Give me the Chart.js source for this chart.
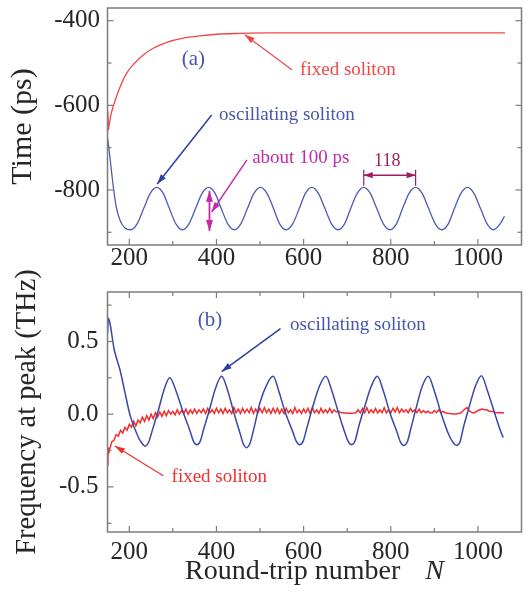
<!DOCTYPE html>
<html><head><meta charset="utf-8">
<script src="https://cdn.jsdelivr.net/npm/chart.js@4/dist/chart.umd.min.js"></script>
<style>
html,body{margin:0;padding:0;background:#fff;}
#wrap{position:relative;width:528px;height:595px;overflow:hidden;}
canvas{position:absolute;left:0;}
</style></head><body>
<div id="wrap">
<canvas id="topChart" width="528" height="270" style="top:0"></canvas>
<canvas id="botChart" width="528" height="325" style="top:270px"></canvas>
</div>
<script>
// ---------- data ----------
// (a) time position of the two solitons
const topRedN = [150,151,152,154,158,163,171,179,194,209,232,255,286,324,362,400,454,520,700,900,1062];
const topRedT = [-668,-615,-658,-645,-622,-603,-578,-556,-524,-504,-481,-465,-451,-441,-436,-432,-430,-429,-429,-429,-429];

const topBlueN = [150,153,158,163,170,179,190,203,
  218,233,248,263,278,292,307,322,337,352,367,382,397,411,426,441,456,471,486,501,516,531,545,560,
  575,590,604,619,634,649,664,679,694,708,723,738,753,768,783,798,813,827,842,857,872,887,902,917,
  932,946,961,976,991,1006,1021,1036,1051,1061];
const topBlueT = [-676,-700,-745,-790,-840,-872,-890,-894,
  -880,-844,-808,-794,-808,-844,-880,-894,-880,-844,-808,-794,-808,-844,-880,-894,-880,-844,-808,-794,-808,-844,-880,-894,
  -880,-844,-808,-794,-808,-844,-880,-894,-880,-844,-808,-794,-808,-844,-880,-894,-880,-844,-808,-794,-808,-844,-880,-894,
  -880,-844,-808,-794,-808,-844,-880,-894,-880,-862];

// (b) frequency at peak
const botBlueN = [150,152,156,165,179,190,202,221,229,236,244,252,267,280,293,
  306,324,340,347,355,363,370,383,397,412,
  425,440,455,461,469,477,485,500,515,530,
  543,557,575,583,591,599,607,620,636,651,
  665,680,695,702,710,718,726,740,755,769,
  783,798,815,822,830,838,846,858,872,886,
  900,915,933,943,951,959,966,979,994,1008,
  1022,1037,1050,1058];
const botBlueF = [0.55,0.66,0.62,0.45,0.30,0.15,-0.01,-0.16,-0.20,-0.22,-0.195,-0.12,0.03,0.17,0.25,
  0.17,0.01,-0.12,-0.185,-0.21,-0.185,-0.11,0.02,0.17,0.26,
  0.17,0.01,-0.14,-0.20,-0.23,-0.20,-0.11,0.08,0.20,0.26,
  0.16,0.02,-0.12,-0.185,-0.21,-0.185,-0.10,0.04,0.19,0.26,
  0.16,0.01,-0.13,-0.185,-0.21,-0.185,-0.09,0.05,0.19,0.26,
  0.16,0.01,-0.13,-0.19,-0.215,-0.19,-0.10,0.04,0.19,0.26,
  0.16,0.01,-0.14,-0.195,-0.215,-0.19,-0.10,0.04,0.19,0.265,
  0.16,0.02,-0.10,-0.16];

const botRedN = [150,151,152,153,
  155,160,165,170,175,180,185,190,195,200,
  205,210,215,220,225,230,235,240,245,250,
  255,260,265,270,275,280,285,290,295,300,
  305,310,315,320,325,330,335,340,345,350,
  355,360,365,370,375,380,385,390,395,400,
  405,410,415,420,425,430,435,440,445,450,
  455,460,465,470,475,480,485,490,495,500,
  505,510,515,520,525,530,535,540,545,550,
  555,560,565,570,575,580,585,590,595,600,
  605,610,615,620,625,630,635,640,645,650,
  655,660,665,670,675,680,685,690,695,700,
  705,710,715,720,725,730,735,740,745,750,
  755,760,765,770,775,780,785,790,795,800,
  805,810,815,820,825,830,835,840,845,850,
  855,860,865,870,875,880,885,890,895,900,
  905,910,915,920,925,930,935,940,945,950,
  955,960,965,970,975,980,985,990,995,1000,
  1005,1010,1015,1020,1025,1030,1035,1040,1045,1050,
  1055,1060];
const botRedF = [-0.35,-0.29,-0.23,-0.27,
  -0.24,-0.19,-0.18,-0.14,-0.15,-0.11,-0.13,-0.09,-0.11,-0.07,
  -0.09,-0.05,-0.08,-0.04,-0.06,-0.02,-0.05,-0.01,-0.04,0.00,
  -0.03,0.01,-0.02,0.015,-0.015,0.02,-0.01,0.025,0.00,0.02,
  -0.005,0.03,0.00,0.025,0.005,0.035,0.00,0.03,0.005,0.035,
  0.005,0.03,0.01,0.035,0.005,0.04,0.01,0.03,0.005,0.04,
  0.01,0.035,0.005,0.04,0.01,0.03,0.005,0.045,0.01,0.035,
  0.005,0.04,0.01,0.035,0.01,0.045,0.005,0.035,0.01,0.04,
  0.01,0.045,0.01,0.035,0.005,0.04,0.01,0.04,0.005,0.035,
  0.005,0.04,0.01,0.03,0.005,0.045,0.01,0.03,0.005,0.035,
  0.01,0.04,0.005,0.045,0.01,0.03,0.005,0.04,0.01,0.03,
  0.01,0.04,0.01,0.03,0.015,0.02,0.012,0.01,0.008,0.006,
  0.006,0.007,0.008,0.01,0.03,0.008,0.04,0.01,0.045,0.008,
  0.03,0.01,0.04,0.008,0.03,0.01,0.045,0.008,0.03,0.01,
  0.04,0.015,0.045,0.01,0.035,0.015,0.03,0.01,0.04,0.015,
  0.03,0.01,0.035,0.01,0.025,0.01,0.02,0.01,0.008,0.025,
  0.01,0.03,0.012,0.02,0.01,0.006,0.004,0.003,0.002,0.002,
  0.004,0.008,0.02,0.035,0.045,0.025,0.012,0.008,0.015,0.025,
  0.03,0.035,0.03,0.03,0.022,0.018,0.02,0.012,0.01,0.012,
  0.008,0.01];

// tick labels
const xTickLabels = [200,400,600,800,1000];
const xMinorTicks = [300,500,700,900];
const yTopTicks = [-400,-600,-800];
const yTopMinor = [-500,-700,-900];
const yBotTicks = [0.5,0.0,-0.5];
const yBotMinor = [0.75,0.25,-0.25,-0.75];

// ---------- drawing ----------
const FONT = '"Liberation Serif", "Times New Roman", serif';
const INK = '#262626';
const pts = (xs, ys) => xs.map((v, i) => ({x: v, y: ys[i]}));

function arrowHead(ctx, x1, y1, x2, y2, L, W) {
  const a = Math.atan2(y2 - y1, x2 - x1), c = Math.cos(a), s = Math.sin(a);
  ctx.beginPath();
  ctx.moveTo(x2, y2);
  ctx.lineTo(x2 - L * c + W * s, y2 - L * s - W * c);
  ctx.lineTo(x2 - L * c - W * s, y2 - L * s + W * c);
  ctx.closePath();
  ctx.fill();
}

const framePlugin = {
  id: 'frame',
  afterDatasetsDraw(chart, args, o) {
    const {ctx, chartArea: a, scales: {x, y}} = chart;
    ctx.save();
    ctx.strokeStyle = o.color; ctx.lineWidth = o.width;
    ctx.strokeRect(a.left, a.top, a.right - a.left, a.bottom - a.top);
    const seg = (x1, y1, x2, y2) => { ctx.beginPath(); ctx.moveTo(x1, y1); ctx.lineTo(x2, y2); ctx.stroke(); };
    ctx.lineWidth = 1.2;
    const xt = [...o.xMajor.map(v => [v, o.major]), ...o.xMinor.map(v => [v, o.minor])];
    const yt = [...o.yMajor.map(v => [v, o.major]), ...o.yMinor.map(v => [v, o.minor])];
    xt.forEach(([v, L]) => {
      const p = x.getPixelForValue(v);
      seg(p, a.bottom, p, a.bottom - L);
      if (o.topTicks) seg(p, a.top, p, a.top + L);
    });
    yt.forEach(([v, L]) => {
      const p = y.getPixelForValue(v);
      seg(a.left, p, a.left + L, p);
      if (o.rightTicks) seg(a.right, p, a.right - L, p);
    });
    ctx.restore();
  }
};

const notesPlugin = {
  id: 'notes',
  afterDatasetsDraw(chart, args, o) {
    const {ctx, chartArea: area, scales: {x, y}} = chart;
    const px = n => x.getPixelForValue(n), py = v => y.getPixelForValue(v);
    ctx.save();
    (o.arrows || []).forEach(a => {
      const x1 = px(a.from[0]), y1 = py(a.from[1]), x2 = px(a.to[0]), y2 = py(a.to[1]);
      ctx.strokeStyle = a.color; ctx.fillStyle = a.color; ctx.lineWidth = a.width || 1.2;
      ctx.beginPath(); ctx.moveTo(x1, y1); ctx.lineTo(x2, y2); ctx.stroke();
      if (a.head !== false) arrowHead(ctx, x1, y1, x2, y2, a.L || 10, a.W || 3.2);
      if (a.both) arrowHead(ctx, x2, y2, x1, y1, a.L || 10, a.W || 3.2);
    });
    (o.bars || []).forEach(b => {
      ctx.strokeStyle = b.color; ctx.lineWidth = b.width || 1.2;
      ctx.beginPath(); ctx.moveTo(px(b.at), py(b.y1)); ctx.lineTo(px(b.at), py(b.y2)); ctx.stroke();
    });
    (o.texts || []).forEach(t => {
      ctx.font = `${t.size}px ${FONT}`;
      ctx.fillStyle = t.color; ctx.textAlign = t.align || 'left'; ctx.textBaseline = 'middle';
      ctx.fillText(t.text, px(t.at[0]), py(t.at[1]));
    });
    if (o.xTitle) {
      const t = o.xTitle;
      ctx.fillStyle = INK; ctx.textBaseline = 'alphabetic'; ctx.textAlign = 'left';
      ctx.font = `${t.size}px ${FONT}`;
      const w1 = ctx.measureText(t.main).width;
      ctx.font = `italic ${t.size}px ${FONT}`;
      const w2 = ctx.measureText(t.sym).width;
      const total = w1 + t.gap + w2;
      const x0 = (area.left + area.right) / 2 - total / 2;
      const yb = area.bottom + t.dy;
      ctx.font = `${t.size}px ${FONT}`;
      ctx.fillText(t.main, x0, yb);
      ctx.font = `italic ${t.size}px ${FONT}`;
      ctx.fillText(t.sym, x0 + w1 + t.gap, yb);
    }
    ctx.restore();
  }
};

function xScale(h, pad) {
  return {
    type: 'linear', min: 150, max: 1100,
    grid: {display: false, drawTicks: false}, border: {display: false},
    afterBuildTicks: s => { s.ticks = xTickLabels.map(v => ({value: v})); },
    afterFit: s => { s.height = h; s.paddingLeft = 0; s.paddingRight = 0; },
    ticks: {font: {family: FONT, size: 25, lineHeight: 1}, color: INK, padding: pad,
      maxRotation: 0, autoSkip: false, callback: v => String(v)}
  };
}
function yScale(min, max, ticks, fmt, title, tsize, tpad, lpad) {
  return {
    min, max,
    grid: {display: false, drawTicks: false}, border: {display: false},
    afterBuildTicks: s => { s.ticks = ticks.map(v => ({value: v})); },
    afterFit: s => { s.width = 107.5; s.paddingTop = 0; s.paddingBottom = 0; },
    ticks: {font: {family: FONT, size: 25, lineHeight: 1}, color: INK, padding: lpad, autoSkip: false, callback: fmt},
    title: {display: true, text: title, color: INK, font: {family: FONT, size: tsize, lineHeight: 1.2}, padding: {top: tpad, bottom: 0}}
  };
}

const BLUE = '#4c5cb4', BLUE2 = '#3748a8', RED = '#f24646', RED2 = '#f22e2e';
const NOTE_BLUE = '#4656ab', ARROW_BLUE = '#2f3f9f', MAG = '#c22aa6', MAROON = '#a01e5e';

new Chart(document.getElementById('topChart'), {
  type: 'line',
  data: {datasets: [
    {label: 'fixed soliton', data: pts(topRedN, topRedT), borderColor: RED, borderWidth: 1.3, pointRadius: 0, cubicInterpolationMode: 'monotone'},
    {label: 'oscillating soliton', data: pts(topBlueN, topBlueT), borderColor: BLUE, borderWidth: 1.3, pointRadius: 0, cubicInterpolationMode: 'monotone'}
  ]},
  options: {
    responsive: false, animation: false, devicePixelRatio: 1,
    layout: {padding: {top: 8, right: 6.5, left: 0, bottom: 0}},
    plugins: {
      legend: {display: false}, tooltip: {enabled: false},
      frame: {color: '#7c7c7c', width: 1.5, major: 6, minor: 4, xMajor: xTickLabels, xMinor: xMinorTicks,
        yMajor: yTopTicks, yMinor: yTopMinor, topTicks: false, rightTicks: true},
      notes: {
        texts: [
          {text: '(a)', at: [347, -492], size: 21, color: NOTE_BLUE, align: 'center'},
          {text: 'fixed soliton', at: [592, -516], size: 19, color: RED},
          {text: 'oscillating soliton', at: [406, -623], size: 19, color: NOTE_BLUE},
          {text: 'about 100 ps', at: [482, -725], size: 19, color: MAG},
          {text: '118', at: [792, -732], size: 18, color: MAROON, align: 'center'}
        ],
        arrows: [
          {from: [573, -516], to: [465, -433], color: RED, width: 1.2},
          {from: [389, -623], to: [264, -786], color: ARROW_BLUE, width: 1.5},
          {from: [470, -729], to: [389, -852], color: MAG, width: 1.4},
          {from: [384, -802], to: [384, -897], color: MAG, width: 1.8, both: true, L: 11, W: 3.5},
          {from: [738, -765], to: [857, -765], color: MAROON, width: 1.5, both: true, L: 9, W: 3.2}
        ],
        bars: [
          {at: 738, y1: -752, y2: -790, color: MAROON, width: 1.2},
          {at: 857, y1: -752, y2: -790, color: MAROON, width: 1.2}
        ]
      }
    },
    scales: {
      x: xScale(25, 1),
      y: yScale(-930, -370, yTopTicks, v => String(v), 'Time (ps)', 30, 5, 7.5)
    }
  },
  plugins: [framePlugin, notesPlugin]
});

new Chart(document.getElementById('botChart'), {
  type: 'line',
  data: {datasets: [
    {label: 'oscillating soliton', data: pts(botBlueN, botBlueF), borderColor: BLUE2, borderWidth: 1.5, pointRadius: 0, cubicInterpolationMode: 'monotone'},
    {label: 'fixed soliton', data: pts(botRedN, botRedF), borderColor: RED2, borderWidth: 1.5, pointRadius: 0, tension: 0}
  ]},
  options: {
    responsive: false, animation: false, devicePixelRatio: 1,
    layout: {padding: {top: 22, right: 6.5, left: 0, bottom: 0}},
    plugins: {
      legend: {display: false}, tooltip: {enabled: false},
      frame: {color: '#7c7c7c', width: 1.5, major: 6, minor: 4, xMajor: xTickLabels, xMinor: xMinorTicks,
        yMajor: yBotTicks, yMinor: yBotMinor, topTicks: true, rightTicks: false},
      notes: {
        texts: [
          {text: '(b)', at: [385, 0.641], size: 21, color: NOTE_BLUE, align: 'center'},
          {text: 'oscillating soliton', at: [569, 0.61], size: 19, color: NOTE_BLUE},
          {text: 'fixed soliton', at: [297, -0.433], size: 19, color: RED2}
        ],
        arrows: [
          {from: [547, 0.588], to: [412, 0.293], color: ARROW_BLUE, width: 1.5},
          {from: [278, -0.423], to: [167, -0.218], color: RED2, width: 1.2}
        ],
        xTitle: {main: 'Round-trip number', sym: 'N', gap: 25, size: 28, dy: 47}
      }
    },
    scales: {
      x: xScale(63, 8),
      y: yScale(-0.81, 0.84, yBotTicks, v => Number(v).toFixed(1), 'Frequency at peak (THz)', 28.5, 10, 9)
    }
  },
  plugins: [framePlugin, notesPlugin]
});
</script>
</body></html>
